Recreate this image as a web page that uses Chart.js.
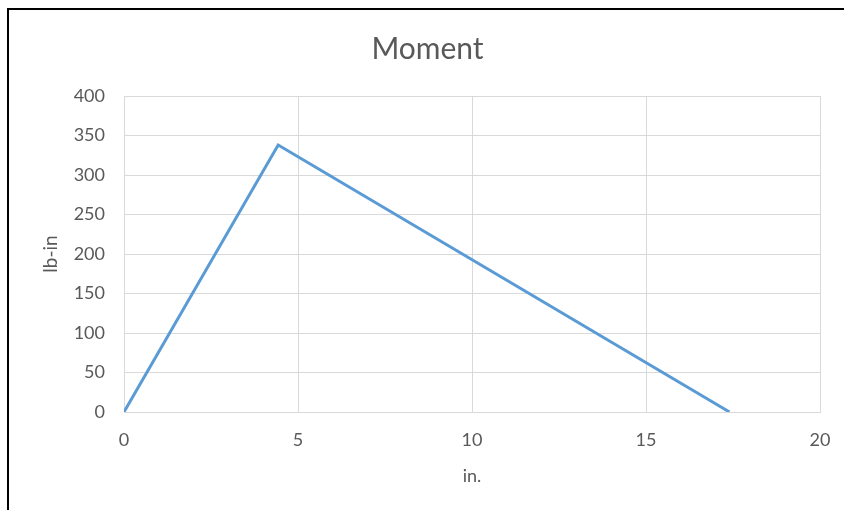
<!DOCTYPE html>
<html>
<head>
<meta charset="utf-8">
<script src="https://cdn.jsdelivr.net/npm/chart.js@4"></script>
<style>
  html, body { margin: 0; padding: 0; background: #fff; }
  #wrap { position: relative; width: 844px; height: 510px; overflow: hidden; }
  #frame { position: absolute; left: 7px; top: 8px; width: 900px; height: 600px; border: 2px solid #000; box-sizing: border-box; }
  canvas { position: absolute; left: 0; top: 0; }
</style>
</head>
<body>
<div id="wrap">
  <div id="frame"></div>
  <canvas id="c" width="844" height="510"></canvas>
</div>
<script>
// Bending moment along the beam (position in inches, moment in lb-in)
const positions = [0, 4.43, 17.4];
const moments = [0, 338, 0];
const xTicks = [0, 5, 10, 15, 20];
const yTicks = [0, 50, 100, 150, 200, 250, 300, 350, 400];

const FONT = "Lato, 'Open Sans', sans-serif";
const TEXT = '#595959';
const GRID = '#d9d9d9';

const points = positions.map((x, i) => ({ x, y: moments[i] }));

new Chart(document.getElementById('c'), {
  type: 'line',
  data: {
    datasets: [{
      data: points,
      borderColor: '#5b9bd5',
      borderWidth: 3,
      pointRadius: 0,
      tension: 0,
      fill: false
    }]
  },
  options: {
    responsive: false,
    animation: false,
    layout: { padding: { left: 35, right: 24, top: 31, bottom: 19 } },
    plugins: {
      legend: { display: false },
      tooltip: { enabled: false },
      title: {
        display: true,
        text: 'Moment',
        color: TEXT,
        font: { family: FONT, size: 30, weight: 'normal' },
        padding: { top: 0, bottom: 29 }
      }
    },
    scales: {
      x: {
        type: 'linear',
        min: 0, max: 20,
        afterBuildTicks: s => { s.ticks = xTicks.map(v => ({ value: v })); },
        afterFit: s => { s.height = 79; s.paddingRight = 0; },
        grid: { color: GRID, lineWidth: 1, drawTicks: false },
        border: { color: GRID },
        ticks: { color: TEXT, font: { family: FONT, size: 18 }, padding: 17 },
        title: { display: true, text: 'in.', color: TEXT, font: { family: FONT, size: 18 } }
      },
      y: {
        type: 'linear',
        min: 0, max: 400,
        afterBuildTicks: s => { s.ticks = yTicks.map(v => ({ value: v })); },
        afterFit: s => { s.width = 89; },
        grid: { color: GRID, lineWidth: 1, drawTicks: false },
        border: { color: GRID },
        ticks: { color: TEXT, font: { family: FONT, size: 18 }, padding: 19 },
        title: { display: true, text: 'lb-in', color: TEXT, font: { family: FONT, size: 19 } }
      }
    }
  }
});
</script>
</body>
</html>
